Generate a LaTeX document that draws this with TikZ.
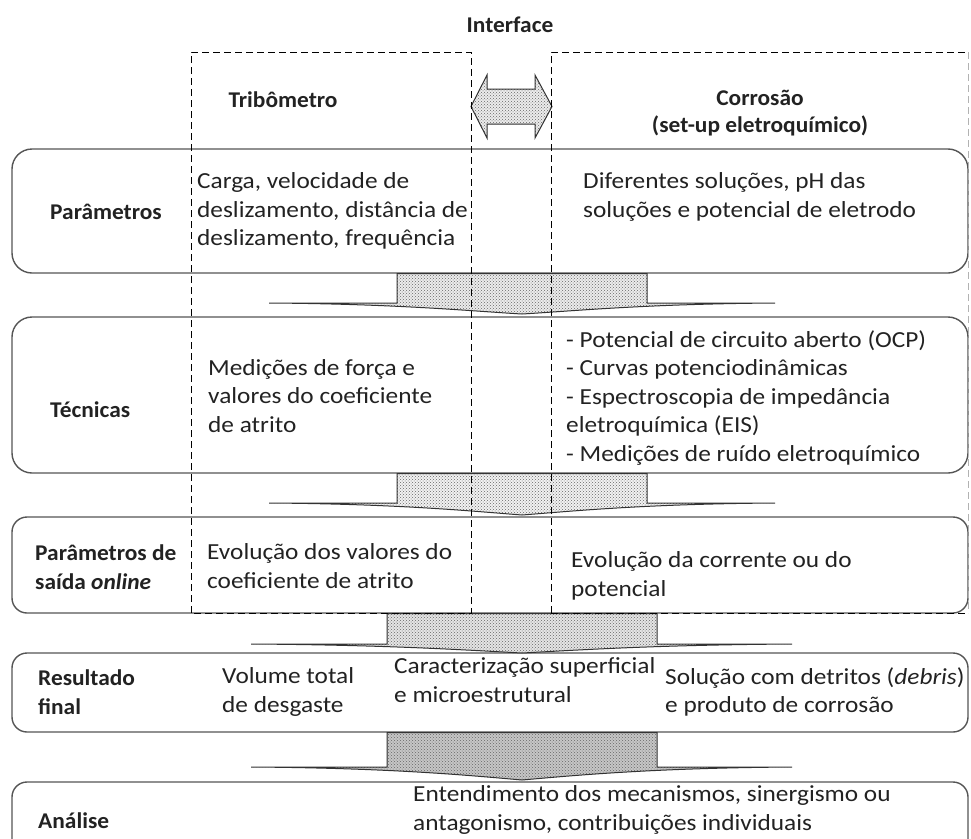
\documentclass[tikz,border=0pt]{standalone}
\usepackage{fontspec}
\setmainfont{Carlito}[FakeStretch=1.1, BoldFeatures={FakeStretch=1.04}, BoldItalicFeatures={FakeStretch=1.04}]
\usetikzlibrary{patterns,calc}
\definecolor{boxc}{HTML}{555555}
\definecolor{textc}{HTML}{222222}
\tikzset{
  rowbox/.style={draw=boxc, line width=1.4pt, rounded corners=#1, minimum width=956pt, inner sep=0pt},
  dashline/.style={draw=black, line width=0.9pt, dash pattern=on 7pt off 4pt},
  txt/.style={anchor=west, align=left, inner sep=0pt, text=textc, font=\fontsize{23}{28.5}\selectfont},
  lbl/.style={txt, font=\fontsize{22.5}{28.5}\selectfont\bfseries},
  hdr/.style={anchor=center, align=center, inner sep=0pt, text=textc, font=\fontsize{22.5}{27}\selectfont\bfseries},
  barrow/.style={draw=black!80, line width=1pt, preaction={fill=#1}, pattern=crosshatch dots, pattern color=gray!80!black},
}
\begin{document}
\begin{tikzpicture}[x=1pt,y=-1pt]
\useasboundingbox (0,0) rectangle (971,838);
\clip (0,0) rectangle (971,838);

% header
\node[hdr] (interface) at (510,25) {Interface};
\node[hdr] (trib) at (283,100) {Tribômetro};
\node[hdr] (corr) at (760,113) {Corrosão\\(set-up eletroquímico)};

% interface double arrow
\path[barrow=gray!15] (471,106.5) -- (487,75) -- (487,89) -- (535,89) -- (535,75) -- (552,106.5) -- (535,138) -- (535,124) -- (487,124) -- (487,138) -- cycle;

% row boxes
\node[rowbox=20pt, minimum height=124pt] (b1) at (490,211) {};
\node[rowbox=20pt, minimum height=156pt] (b2) at (490,395) {};
\node[rowbox=15pt, minimum height=96pt]  (b3) at (490,565) {};
\node[rowbox=15pt, minimum height=79pt]  (b4) at (490,692.5) {};
\node[rowbox=15pt, minimum height=100pt] (b5) at (490,832) {};

% block arrows between rows
\path[barrow=gray!15] (b1.south -| 397,0) -- (397,303) -- (269,303)
   .. controls (400,304) and (470,311) .. (522,314)
   .. controls (574,311) and (644,304) .. (775,303) -- (647,303) -- (b1.south -| 647,0) -- cycle;
\path[barrow=gray!10] (b2.south -| 397,0) -- (397,503) -- (269,503)
   .. controls (400,504) and (470,511) .. (522,515)
   .. controls (574,511) and (644,504) .. (775,503) -- (647,503) -- (b2.south -| 647,0) -- cycle;
\path[barrow=gray!20] (b3.south -| 387,0) -- (387,644) -- (251,644)
   .. controls (390,645) and (465,650) .. (522,653)
   .. controls (579,650) and (654,645) .. (792,644) -- (657,644) -- (b3.south -| 657,0) -- cycle;
\path[barrow=gray!45] (b4.south -| 387,0) -- (387,767) -- (251,767)
   .. controls (390,768) and (465,775) .. (522,780)
   .. controls (579,775) and (654,768) .. (792,767) -- (657,767) -- (b4.south -| 657,0) -- cycle;

% dashed column frames
\draw[dashline] (191,613) -- (191,52) -- (471,52) -- (471,613) -- cycle;
\draw[dashline] (551,613) -- (551,52) -- (968,52);
\draw[dashline, draw=gray!60] (968,52) -- (968,613);
\draw[dashline] (551,613) -- (968,613);

% row 1
\node[lbl] (l1) at (50,212) {Parâmetros};
\node[txt] (t1a) at (197,211) {Carga, velocidade de\\deslizamento, distância de\\deslizamento, frequência};
\node[txt] (t1b) at (583,197) {Diferentes soluções, pH das\\soluções e potencial de eletrodo};

% row 2
\node[lbl] (l2) at (50,410) {Técnicas};
\node[txt] (t2a) at (208,396) {Medições de força e\\valores do coeficiente\\de atrito};
\node[txt] (t2b) at (566,398) {- Potencial de circuito aberto (OCP)\\- Curvas potenciodinâmicas\\- Espectroscopia de impedância\\eletroquímica (EIS)\\- Medições de ruído eletroquímico};

% row 3
\node[lbl] (l3) at (35,567) {Parâmetros de\\saída \textit{online}};
\node[txt] (t3a) at (207,566) {Evolução dos valores do\\coeficiente de atrito};
\node[txt] (t3b) at (571,576) {Evolução da corrente ou do\\potencial};

% row 4
\node[lbl] (l4) at (38,692) {Resultado\\final};
\node[txt] (t4a) at (222,692) {Volume total\\de desgaste};
\node[txt] (t4b) at (394,680) {Caracterização superficial\\e microestrutural};
\node[txt] (t4c) at (665,692) {Solução com detritos (\textit{debris})\\e produto de corrosão};

% row 5
\node[lbl] (l5) at (38,821) {Análise};
\node[txt] (t5) at (413,810) {Entendimento dos mecanismos, sinergismo ou\\antagonismo, contribuições individuais};
\end{tikzpicture}
\end{document}
